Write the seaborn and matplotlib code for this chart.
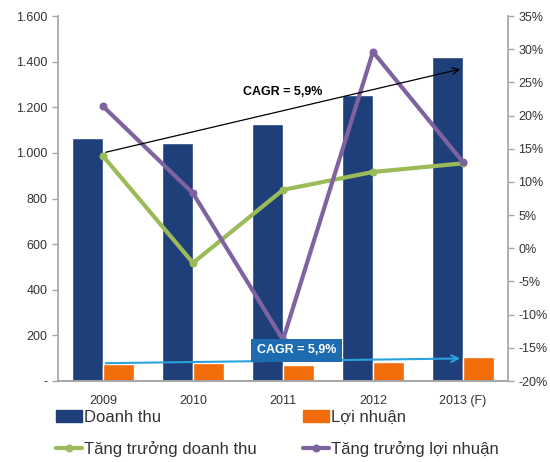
import numpy as np
import pandas as pd
import seaborn as sns
import matplotlib.pyplot as plt
from matplotlib.ticker import FuncFormatter

years = ['2009', '2010', '2011', '2012', '2013 (F)']
doanh_thu = [1066, 1042, 1128, 1255, 1420]
loi_nhuan = [74, 77, 70, 82, 104]
tt_doanh_thu = [13.9, -2.2, 8.8, 11.5, 12.8]
tt_loi_nhuan = [21.4, 8.3, -13.8, 29.6, 13.0]

blue = '#1f3f7a'
orange = '#f26c0a'
green = '#9bbb59'
purple = '#7f63a1'

sns.set_theme(style='white')
plt.rcParams['font.family'] = ['Liberation Sans', 'DejaVu Sans']
plt.rcParams['text.color'] = '#333333'
plt.rcParams['xtick.color'] = '#333333'
plt.rcParams['ytick.color'] = '#333333'

bars = pd.DataFrame({
    'year': years * 2,
    'value': doanh_thu + loi_nhuan,
    'series': ['Doanh thu'] * 5 + ['Lợi nhuận'] * 5,
})

fig = plt.figure(figsize=(5.5, 4.62), dpi=100)
ax = fig.add_axes([0.1055, 0.1753, 0.818, 0.79])
sns.barplot(data=bars, x='year', y='value', hue='series', palette=[blue, orange],
            width=0.68, saturation=1, ax=ax, legend=False)
ax.set_xlim(-0.5, 4.5)
ax.set_ylim(0, 1600)
ax.set_yticks(range(0, 1601, 200))
ax.yaxis.set_major_formatter(FuncFormatter(lambda v, p: '-' if v == 0 else f'{int(v):,}'.replace(',', '.')))
ax.set_xlabel('')
ax.set_ylabel('')

ax2 = ax.twinx()
x = np.arange(len(years))
sns.lineplot(x=x, y=tt_doanh_thu, color=green, lw=3, marker='o', ms=5,
             markeredgecolor=green, ax=ax2, label='Tăng trưởng doanh thu', legend=False)
sns.lineplot(x=x, y=tt_loi_nhuan, color=purple, lw=3, marker='o', ms=5,
             markeredgecolor=purple, ax=ax2, label='Tăng trưởng lợi nhuận', legend=False)
ax2.set_ylim(-20, 35)
ax2.set_yticks(range(-20, 36, 5))
ax2.yaxis.set_major_formatter(FuncFormatter(lambda v, p: f'{int(v)}%'))
ax2.set_xlim(-0.5, 4.5)

for a in (ax, ax2):
    a.spines['top'].set_visible(False)
    for s in a.spines.values():
        s.set_color('#a6a6a6')
    a.tick_params(labelsize=9, length=4, color='#a6a6a6', width=1)
ax.spines['right'].set_visible(False)
ax2.spines['left'].set_visible(False)
ax.set_xticks(np.arange(5), years)
ax.set_xticks(np.arange(-0.5, 5, 1), minor=True)
ax.tick_params(axis='x', which='major', length=0, pad=10)
ax.tick_params(axis='x', which='minor', length=4, color='#a6a6a6', direction='out')
ax.tick_params(axis='y', left=True, direction='out')
ax2.tick_params(axis='y', right=True, direction='out')

# CAGR arrows
ax2.annotate('', xy=(4, 1370), xytext=(0, 1000), xycoords=ax.transData,
             textcoords=ax.transData,
             arrowprops=dict(arrowstyle='->', color='black', lw=0.9))
ax2.text(2, 1265, 'CAGR = 5,9%', transform=ax.transData, ha='center', va='center',
         fontsize=9, fontweight='bold', color='black')
ax2.annotate('', xy=(4, 99), xytext=(0, 78), xycoords=ax.transData,
             textcoords=ax.transData,
             arrowprops=dict(arrowstyle='->', color='#2aa3dc', lw=1.5))
ax2.text(2.15, 135, 'CAGR = 5,9%', transform=ax.transData, ha='center', va='center',
         fontsize=9, fontweight='bold', color='white',
         bbox=dict(boxstyle='square,pad=0.45', fc='#1e6cb0', ec='none'))

h = [plt.Rectangle((0, 0), 1, 1, color=blue), ax2.lines[0],
     plt.Rectangle((0, 0), 1, 1, color=orange), ax2.lines[1]]
lab = ['Doanh thu', 'Tăng trưởng doanh thu', 'Lợi nhuận', 'Tăng trưởng lợi nhuận']
fig.legend(h, lab, loc='upper left', bbox_to_anchor=(0.102, 0.113), ncol=2,
           frameon=False, fontsize=12, handlelength=1.55, handletextpad=0.1,
           columnspacing=2.8, labelspacing=0.95, borderaxespad=0, borderpad=0)

fig.savefig('out.png', dpi=100)
